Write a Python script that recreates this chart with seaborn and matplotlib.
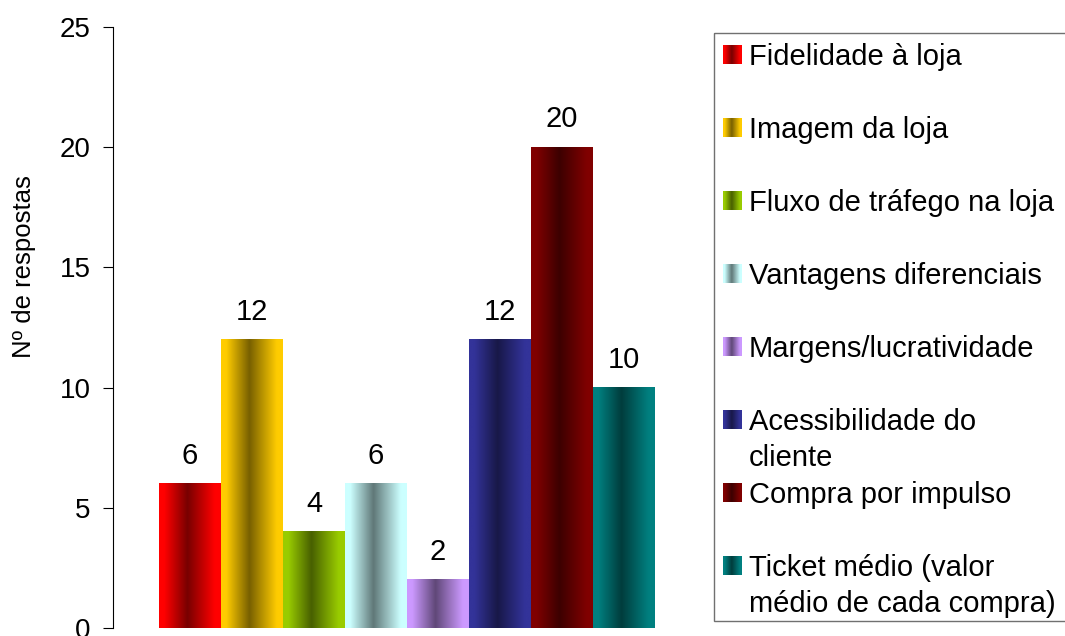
import numpy as np
import pandas as pd
import matplotlib
matplotlib.use("Agg")
import matplotlib.pyplot as plt
import seaborn as sns
from matplotlib.patches import Rectangle
from matplotlib.colors import to_rgb

# Data
categories = [
    "Fidelidade à loja",
    "Imagem da loja",
    "Fluxo de tráfego na loja",
    "Vantagens diferenciais",
    "Margens/lucratividade",
    "Acessibilidade do\ncliente",
    "Compra por impulso",
    "Ticket médio (valor\nmédio de cada compra)",
]
values = [6, 12, 4, 6, 2, 12, 20, 10]
bar_colors = ["#FF0000", "#FFCC00", "#99CC00", "#CCFFFF",
              "#CC99FF", "#333399", "#800000", "#008080"]
y_ticks = [0, 5, 10, 15, 20, 25]
y_label = "Nº de respostas"

sns.set_style("white")
plt.rcParams["font.family"] = ["Liberation Sans", "DejaVu Sans"]


def shaded_strip(color, n=240, dark=0.47, center=0.46):
    """Horizontal gradient: base colour at the edges, darker in the middle."""
    c = np.array(to_rgb(color))
    x = np.linspace(0, 1, n)
    d = np.where(x < center, (center - x) / center, (x - center) / (1 - center))
    w = np.clip(d / 0.82, 0, 1)
    k = dark + (1 - dark) * w
    return (c[None, :] * k[:, None])[None, :, :]


W, H = 1065, 636
fig = plt.figure(figsize=(W / 100, H / 100), dpi=100)
ax = fig.add_axes([113 / W, 8 / H, 588 / W, 601 / H])

df = pd.DataFrame({"categoria": categories, "respostas": values})
sns.barplot(data=df, x="categoria", y="respostas", hue="categoria",
            palette=bar_colors, width=1.0, saturation=1, legend=False, ax=ax)

# Replace flat fills with a shaded cylinder-like gradient
for patch in ax.patches:
    x0, w, h = patch.get_x(), patch.get_width(), patch.get_height()
    fc = patch.get_facecolor()
    ax.imshow(shaded_strip(fc[:3]), extent=[x0, x0 + w, 0, h],
              aspect="auto", zorder=2, interpolation="bilinear")
    patch.set_facecolor("none")
    patch.set_edgecolor("none")

for cont in ax.containers:
    ax.bar_label(cont, fmt="%g", padding=10, fontsize=21, color="black")

ax.set_xlim(-1.242, 8.242)
ax.set_ylim(0, 25)
ax.set_yticks(y_ticks)
ax.set_xticks([])
ax.set_xlabel("")
ax.set_ylabel(y_label, fontsize=18.5, color="black")
ax.yaxis.set_label_coords(-0.131, 0.602)
ax.tick_params(axis="y", direction="out", length=7.2, width=0.8,
               pad=9, labelsize=20, colors="black", left=True)
sns.despine(ax=ax, top=True, right=True, bottom=True)
ax.spines["left"].set_color("black")
ax.spines["left"].set_linewidth(0.8)

# Legend panel drawn in figure pixel coordinates
lax = fig.add_axes([0, 0, 1, 1], zorder=5)
lax.patch.set_alpha(0)
lax.add_patch(Rectangle((714, 33), 420, 588, fill=False,
                        edgecolor="#707070", linewidth=1.0))
for i, (label, color) in enumerate(zip(categories, bar_colors)):
    top = 45 + 73 * i
    lax.imshow(shaded_strip(color, n=60), extent=[723, 742, top + 19, top],
               aspect="auto", interpolation="bilinear")
    lax.text(749, top - 2, label, fontsize=21, ha="left", va="top",
             linespacing=1.37, color="black")
lax.set_xlim(0, W)
lax.set_ylim(H, 0)
lax.axis("off")

fig.savefig("out.png", dpi=100)
